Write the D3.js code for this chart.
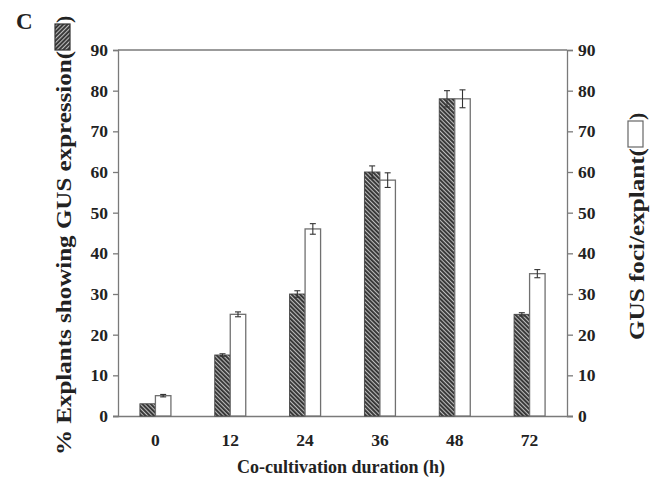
<!DOCTYPE html>
<html><head><meta charset="utf-8">
<script src="https://cdn.jsdelivr.net/npm/d3@7"></script>
<style>body{margin:0;background:#fff}svg{display:block}text{font-family:"Liberation Serif","Times New Roman",serif;font-weight:bold;fill:#222}</style>
</head><body>
<script>
const categories = ["0","12","24","36","48","72"];
const gusExpression = [3,15,30,60,78,25];
const gusExpressionErr = [0.2,0.3,0.8,1.5,2,0.4];
const gusFoci = [5,25,46,58,78,35];
const gusFociErr = [0.3,0.6,1.3,1.8,2.2,1];
const yTicks = [0,10,20,30,40,50,60,70,80,90];

const W=657,H=482;
const m={l:118,r:567,t:50,b:416};
const svg=d3.select("body").append("svg").attr("width",W).attr("height",H);
const defs=svg.append("defs");
const pat=defs.append("pattern").attr("id","hatch").attr("patternUnits","userSpaceOnUse").attr("width",3).attr("height",3).attr("patternTransform","rotate(45)");
pat.append("rect").attr("width",3).attr("height",3).attr("fill","#333");
pat.append("rect").attr("width",3).attr("height",1.1).attr("fill","#bdbdbd");

const x=d3.scaleBand().domain(categories).range([m.l,m.r]);
const y=d3.scaleLinear().domain([0,90]).range([m.b,m.t]);
const y2=d3.scaleLinear().domain([0,90]).range([m.b,m.t]);
const bw=15.5;
const axisColor="#7a7a7a";

svg.append("line").attr("x1",m.l).attr("x2",m.r).attr("y1",m.t).attr("y2",m.t).attr("stroke",axisColor).attr("stroke-width",1.3);

const gl=svg.append("g").attr("transform",`translate(${m.l},0)`).call(d3.axisLeft(y).tickValues(yTicks).tickSize(5).tickPadding(5));
const gr=svg.append("g").attr("transform",`translate(${m.r},0)`).call(d3.axisRight(y2).tickValues(yTicks).tickSize(6).tickPadding(5));
const gb=svg.append("g").attr("transform",`translate(0,${m.b})`).call(d3.axisBottom(x).tickSize(0).tickPadding(18));
[gl,gr,gb].forEach(g=>{g.selectAll("path,line").attr("stroke",axisColor).attr("stroke-width",1.3);g.selectAll("text").style("font-size","17.5px").style("font-family",'"Liberation Serif",serif').style("font-weight","bold").attr("fill","#222");});
gb.select("path").attr("d",`M${m.l-5},0.5H${m.r+6}`);

const bars=svg.append("g");
categories.forEach((c,i)=>{
  const cx=x(c)+x.bandwidth()/2;
  bars.append("rect").attr("x",cx-bw).attr("y",y(gusExpression[i])).attr("width",bw).attr("height",y(0)-y(gusExpression[i])).attr("fill","url(#hatch)").attr("stroke","#444").attr("stroke-width",0.9);
  bars.append("rect").attr("x",cx).attr("y",y2(gusFoci[i])).attr("width",bw).attr("height",y2(0)-y2(gusFoci[i])).attr("fill","#fff").attr("stroke","#707070").attr("stroke-width",1.3);
  const eb=(xc,v,e,sc)=>{
    const g=bars.append("g").attr("stroke","#333").attr("stroke-width",1.1);
    g.append("line").attr("x1",xc).attr("x2",xc).attr("y1",sc(v+e)).attr("y2",sc(v-e));
    g.append("line").attr("x1",xc-3).attr("x2",xc+3).attr("y1",sc(v+e)).attr("y2",sc(v+e));
    g.append("line").attr("x1",xc-3).attr("x2",xc+3).attr("y1",sc(v-e)).attr("y2",sc(v-e));
  };
  if(i>0) eb(cx-bw/2,gusExpression[i],gusExpressionErr[i],y);
  eb(cx+bw/2,gusFoci[i],gusFociErr[i],y2);
});

svg.append("text").attr("x",16).attr("y",29).style("font-size","23px").text("C");

svg.append("text").attr("x",341).attr("y",473).attr("text-anchor","middle").style("font-size","19px")
  .attr("textLength",208).attr("lengthAdjust","spacingAndGlyphs").text("Co-cultivation duration (h)");

function vtitle(baseX,startY,txt,len,fill,stroke){
  const g=svg.append("g").attr("transform",`translate(${baseX},${startY}) rotate(-90)`);
  g.append("text").attr("x",0).attr("y",0).style("font-size","22px")
    .attr("textLength",len).attr("lengthAdjust","spacingAndGlyphs").text(txt);
  g.append("rect").attr("x",len+1).attr("y",-16).attr("width",26).attr("height",15).attr("fill",fill).attr("stroke",stroke).attr("stroke-width",1.2);
  g.append("text").attr("x",len+28).attr("y",0).style("font-size","22px").text(")");
}
vtitle(71,455,"% Explants showing GUS expression(",404,"url(#hatch)","#333");
vtitle(644,340,"GUS foci/explant(",192,"#fff","#666");
</script>
</body></html>
